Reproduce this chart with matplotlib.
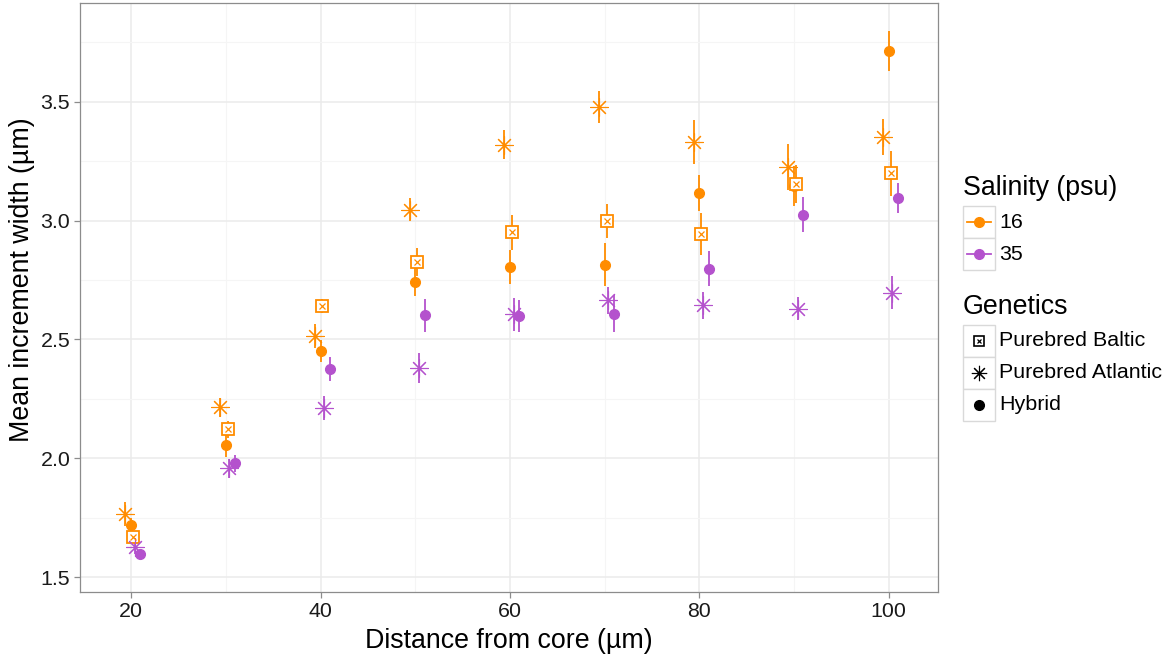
import matplotlib.pyplot as plt
from matplotlib.patches import Rectangle

plt.rcParams['font.family'] = ['Liberation Sans', 'DejaVu Sans']

# distance from core (um)
distance = [20, 30, 40, 50, 60, 70, 80, 90, 100]

# 16 psu
baltic_16 = [1.668, 2.122, 2.641, 2.825, 2.951, 2.997, 2.944, 3.155, 3.200]
baltic_16_err = [0.025, 0.035, 0.03, 0.058, 0.073, 0.071, 0.089, 0.08, 0.095]
atlantic_16 = [1.765, 2.214, 2.514, 3.046, 3.319, 3.480, 3.331, 3.226, 3.352]
atlantic_16_err = [0.05, 0.04, 0.05, 0.049, 0.061, 0.067, 0.091, 0.095, 0.077]
hybrid_16 = [1.718, 2.055, 2.452, 2.741, 2.804, 2.815, 3.116, 3.147, 3.714]
hybrid_16_err = [0.03, 0.05, 0.045, 0.059, 0.072, 0.092, 0.077, 0.085, 0.084]

# 35 psu (no purebred Baltic)
atlantic_35 = [1.626, 1.958, 2.213, 2.381, 2.605, 2.665, 2.643, 2.630, 2.696]
atlantic_35_err = [0.03, 0.04, 0.05, 0.063, 0.069, 0.056, 0.055, 0.049, 0.07]
hybrid_35 = [1.597, 1.979, 2.376, 2.602, 2.598, 2.608, 2.798, 3.025, 3.095]
hybrid_35_err = [0.02, 0.035, 0.05, 0.07, 0.068, 0.078, 0.074, 0.074, 0.064]

ORANGE = "#FF8C00"
PURPLE = "#B452CD"

W, H = 1173, 663
fig = plt.figure(figsize=(W / 100, H / 100), dpi=100)
ax = fig.add_axes([80 / W, 1 - 592 / H, (938 - 80) / W, (592 - 3) / H])

series = [
    # values, errors, colour, genetics, dodge
    (atlantic_16, atlantic_16_err, ORANGE, "atlantic", -0.6),
    (hybrid_16, hybrid_16_err, ORANGE, "hybrid", 0.0),
    (baltic_16, baltic_16_err, ORANGE, "baltic", 0.2),
    (atlantic_35, atlantic_35_err, PURPLE, "atlantic", 0.38),
    (hybrid_35, hybrid_35_err, PURPLE, "hybrid", 0.98),
]


def draw_marker(a, x, y, color, kind):
    if kind == "baltic":
        a.plot(x, y, ls="none", marker="s", ms=8, mfc="white", mec=color, mew=1.3, zorder=4)
        a.plot(x, y, ls="none", marker="x", ms=4, mec=color, mew=0.9, zorder=5)
    elif kind == "atlantic":
        a.plot(x, y, ls="none", marker=(8, 2, 0), ms=13, mec=color, mew=0.8, zorder=4)
    else:
        a.plot(x, y, ls="none", marker="o", ms=7, mfc=color, mec=color, zorder=4)


for vals, errs, col, kind, dx in series:
    xs = [d + dx for d in distance]
    ax.errorbar(xs, vals, yerr=errs, fmt="none", ecolor=col, elinewidth=1.3, capsize=0, zorder=3)
    draw_marker(ax, xs, vals, col, kind)

ax.set_xlim(14.6, 105.2)
ax.set_ylim(1.437, 3.916)
ax.set_xticks([20, 40, 60, 80, 100])
ax.set_xticks([30, 50, 70, 90], minor=True)
ax.set_yticks([1.5, 2.0, 2.5, 3.0, 3.5])
ax.set_yticks([1.75, 2.25, 2.75, 3.25, 3.75], minor=True)
ax.set_yticklabels(["1.5", "2.0", "2.5", "3.0", "3.5"])
ax.grid(which="major", color="#EBEBEB", lw=1.1, zorder=0)
ax.grid(which="minor", color="#F5F5F5", lw=0.8, zorder=0)
ax.set_axisbelow(True)
for s in ax.spines.values():
    s.set_color("#8C8C8C")
    s.set_linewidth(0.9)
ax.tick_params(which="major", length=4, width=0.9, color="#8C8C8C", labelsize=15.4, labelcolor="#1A1A1A", pad=3)
ax.tick_params(which="minor", length=0)
ax.set_xlabel("Distance from core (µm)", fontsize=19.3, labelpad=5)
ax.set_ylabel("Mean increment width (µm)", fontsize=19.3)
ax.yaxis.set_label_coords(-0.052, 0.53)

# legend drawn in pixel space
lg = fig.add_axes([0, 0, 1, 1], zorder=10)
lg.set_xlim(0, W)
lg.set_ylim(H, 0)
lg.axis("off")
lg.patch.set_alpha(0)

lg.text(963, 188, "Salinity (psu)", fontsize=19.3, va="center", ha="left")
for i, (lab, col) in enumerate([("16", ORANGE), ("35", PURPLE)]):
    top = 206 + i * 32
    lg.add_patch(Rectangle((963, top), 32, 32, fc="white", ec="#D9D9D9", lw=1.0))
    lg.plot([967, 991], [top + 16, top + 16], color=col, lw=1.3)
    lg.plot(979, top + 16, marker="o", ms=7, color=col)
    lg.text(999, top + 16, lab, fontsize=15.4, va="center", ha="left")

lg.text(963, 307, "Genetics", fontsize=19.3, va="center", ha="left")
for i, (lab, kind) in enumerate([("Purebred Baltic", "baltic"), ("Purebred Atlantic", "atlantic"), ("Hybrid", "hybrid")]):
    top = 325 + i * 32
    lg.add_patch(Rectangle((963, top), 32, 32, fc="white", ec="#D9D9D9", lw=1.0))
    if kind == "baltic":
        lg.plot(979, top + 16, marker="s", ms=7, mfc="white", mec="black", mew=1.2)
        lg.plot(979, top + 16, marker="x", ms=3.5, mec="black", mew=0.9)
    elif kind == "atlantic":
        lg.plot(979, top + 16, marker=(8, 2, 0), ms=11, mec="black", mew=0.8)
    else:
        lg.plot(979, top + 16, marker="o", ms=7, color="black")
    lg.text(999, top + 16, lab, fontsize=15.4, va="center", ha="left")

fig.savefig("out.png", dpi=100)
